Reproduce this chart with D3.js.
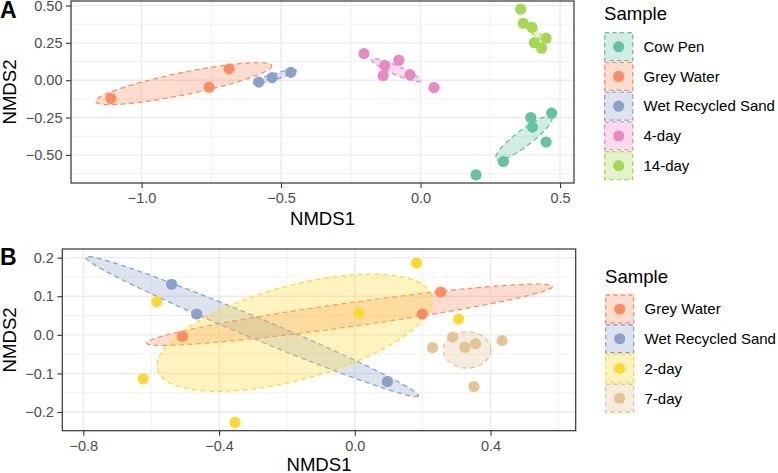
<!DOCTYPE html>
<html>
<head>
<meta charset="utf-8">
<script src="https://cdn.jsdelivr.net/npm/d3@7"></script>
<style>
  html, body { margin: 0; padding: 0; background: #fff; }
  svg { display: block; }
</style>
</head>
<body>
<script>
// ---------------- DATA ----------------
// Panel A
const groupsA = ["Cow Pen", "Grey Water", "Wet Recycled Sand", "4-day", "14-day"];
const colorsA = ["#66C2A5", "#FC8D62", "#8DA0CB", "#E78AC3", "#A6D854"];
const pointsAx = [
  [0.199, 0.297, 0.395, 0.401, 0.470, 0.450],
  [-1.110, -0.758, -0.686],
  [-0.580, -0.532, -0.465],
  [-0.203, -0.078, -0.128, -0.134, -0.038, 0.048],
  [0.359, 0.368, 0.399, 0.450, 0.408, 0.434]
];
const pointsAy = [
  [-0.633, -0.544, -0.250, -0.314, -0.221, -0.414],
  [-0.123, -0.047, 0.076],
  [-0.013, 0.017, 0.053],
  [0.178, 0.134, 0.098, 0.031, 0.037, -0.049],
  [0.475, 0.381, 0.354, 0.281, 0.251, 0.214]
];
// ellipses: centre, first half-axis vector, second half-axis vector (data units)
const ellA_cx = [0.370, -0.849, -0.522, -0.0878, 0.407];
const ellA_cy = [-0.388, -0.023, 0.024, 0.0675, 0.3295];
const ellA_ax = [0.0996, 0.3154, 0.0778, 0.0878, 0.0287];
const ellA_ay = [0.1404, 0.1203, 0.0448, -0.0725, -0.0535];
const ellA_bx = [0.0175, 0.008, 0.0032, -0.0065, -0.0076];
const ellA_by = [-0.0430, -0.0729, -0.0192, -0.0275, -0.0142];
const xDomainA = [-1.253, 0.550];
const yDomainA = [-0.688, 0.530];
const xTicksA = [-1.0, -0.5, 0.0, 0.5];
const xTickLabelsA = ["\u22121.0", "\u22120.5", "0.0", "0.5"];
const yTicksA = [-0.5, -0.25, 0.0, 0.25, 0.5];
const yTickLabelsA = ["\u22120.50", "\u22120.25", "0.00", "0.25", "0.50"];

// Panel B
const groupsB = ["Grey Water", "Wet Recycled Sand", "2-day", "7-day"];
const colorsB = ["#FC8D62", "#8DA0CB", "#FFD92F", "#E5C494"];
const pointsBx = [
  [-0.508, 0.199, 0.253],
  [-0.540, -0.466, 0.096],
  [-0.584, -0.624, -0.353, 0.012, 0.182, 0.306],
  [0.229, 0.288, 0.324, 0.356, 0.434, 0.351]
];
const pointsBy = [
  [-0.004, 0.054, 0.111],
  [0.131, 0.054, -0.121],
  [0.086, -0.114, -0.227, 0.056, 0.186, 0.041],
  [-0.033, -0.006, -0.032, -0.023, -0.015, -0.134]
];
const ellB_cx = [-0.016, -0.303, -0.177, 0.331];
const ellB_cy = [0.052, 0.0215, 0.0054, -0.039];
const ellB_ax = [0.598, 0.490, 0.4035, 0.070];
const ellB_ay = [0.0733, -0.1797, 0.0959, 0.0];
const ellB_bx = [0.0048, -0.012, -0.0361, 0.0];
const ellB_by = [-0.0305, -0.0253, 0.1176, 0.047];
const xDomainB = [-0.862, 0.651];
const yDomainB = [-0.2484, 0.2224];
const xTicksB = [-0.8, -0.4, 0.0, 0.4];
const xTickLabelsB = ["\u22120.8", "\u22120.4", "0.0", "0.4"];
const yTicksB = [-0.2, -0.1, 0.0, 0.1, 0.2];
const yTickLabelsB = ["\u22120.2", "\u22120.1", "0.0", "0.1", "0.2"];

const legendTitle = "Sample";
const xTitle = "NMDS1";
const yTitle = "NMDS2";

// ---------------- DRAW ----------------
const W = 778, H = 473;
const FONT = "'Liberation Sans', Arial, Helvetica, sans-serif";
const svg = d3.select("body").append("svg")
  .attr("width", W).attr("height", H)
  .style("font-family", FONT);
svg.append("rect").attr("width", W).attr("height", H).attr("fill", "#fff");

function minorBreaks(majors, domain) {
  const step = majors[1] - majors[0];
  const ext = [majors[0] - step, ...majors, majors[majors.length - 1] + step];
  const out = [];
  for (let i = 0; i < ext.length - 1; i++) {
    const m = (ext[i] + ext[i + 1]) / 2;
    if (m > domain[0] && m < domain[1]) out.push(m);
  }
  return out;
}

function drawPanel(p) {
  const g = svg.append("g");
  const x = d3.scaleLinear().domain(p.xDomain).range([p.left, p.right]);
  const y = d3.scaleLinear().domain(p.yDomain).range([p.bottom, p.top]);

  // grid
  const grid = g.append("g");
  minorBreaks(p.xTicks, p.xDomain).forEach(v => grid.append("line")
    .attr("x1", x(v)).attr("x2", x(v)).attr("y1", p.top).attr("y2", p.bottom)
    .attr("stroke", "#EBEBEB").attr("stroke-width", 0.7));
  minorBreaks(p.yTicks, p.yDomain).forEach(v => grid.append("line")
    .attr("y1", y(v)).attr("y2", y(v)).attr("x1", p.left).attr("x2", p.right)
    .attr("stroke", "#EBEBEB").attr("stroke-width", 0.7));
  p.xTicks.forEach(v => grid.append("line")
    .attr("x1", x(v)).attr("x2", x(v)).attr("y1", p.top).attr("y2", p.bottom)
    .attr("stroke", "#EBEBEB").attr("stroke-width", 1.4));
  p.yTicks.forEach(v => grid.append("line")
    .attr("y1", y(v)).attr("y2", y(v)).attr("x1", p.left).attr("x2", p.right)
    .attr("stroke", "#EBEBEB").attr("stroke-width", 1.4));

  // ellipses
  const ts = d3.range(0, 2 * Math.PI, Math.PI / 90);
  const line = d3.line().curve(d3.curveLinearClosed);
  p.groups.forEach((name, i) => {
    const pts = ts.map(t => [
      x(p.ecx[i] + p.eax[i] * Math.cos(t) + p.ebx[i] * Math.sin(t)),
      y(p.ecy[i] + p.eay[i] * Math.cos(t) + p.eby[i] * Math.sin(t))
    ]);
    g.append("path").attr("d", line(pts))
      .attr("fill", p.colors[i]).attr("fill-opacity", 0.3)
      .attr("stroke", p.colors[i]).attr("stroke-width", 1.3)
      .attr("stroke-dasharray", "5,3.5");
  });

  // points
  p.groups.forEach((name, i) => {
    g.append("g").selectAll("circle")
      .data(d3.range(p.px[i].length))
      .join("circle")
      .attr("cx", j => x(p.px[i][j]))
      .attr("cy", j => y(p.py[i][j]))
      .attr("r", 5.6)
      .attr("fill", p.colors[i]);
  });

  // border
  g.append("rect").attr("x", p.left).attr("y", p.top)
    .attr("width", p.right - p.left).attr("height", p.bottom - p.top)
    .attr("fill", "none").attr("stroke", "#333333").attr("stroke-width", 1.2);

  // axes
  const xa = g.append("g").attr("transform", `translate(0,${p.bottom})`)
    .call(d3.axisBottom(x).tickValues(p.xTicks)
      .tickFormat((d, i) => p.xTickLabels[i]).tickSize(5).tickPadding(5));
  const ya = g.append("g").attr("transform", `translate(${p.left},0)`)
    .call(d3.axisLeft(y).tickValues(p.yTicks)
      .tickFormat((d, i) => p.yTickLabels[i]).tickSize(5).tickPadding(3.5));
  [xa, ya].forEach(a => {
    a.select(".domain").remove();
    a.selectAll(".tick line").attr("stroke", "#333333").attr("stroke-width", 1.1);
    a.selectAll(".tick text").attr("fill", "#4D4D4D")
      .style("font-size", "14.5px").style("font-family", FONT);
  });

  // titles
  g.append("text").text(xTitle)
    .attr("x", (p.left + p.right) / 2).attr("y", p.xTitleY)
    .attr("text-anchor", "middle").style("font-size", "18.6px").attr("fill", "#000");
  g.append("text").text(yTitle)
    .attr("transform", `translate(${p.yTitleX},${(p.top + p.bottom) / 2}) rotate(-90)`)
    .attr("text-anchor", "middle").style("font-size", "18.6px").attr("fill", "#000");

  // panel tag
  g.append("text").text(p.tag).attr("x", 0).attr("y", p.tagY)
    .style("font-size", "23px").style("font-weight", "bold").attr("fill", "#000");

  // legend
  const lg = g.append("g");
  lg.append("text").text(legendTitle).attr("x", p.legX).attr("y", p.legTitleY)
    .style("font-size", "18.6px").attr("fill", "#000");
  const step = 29.75, key = 28;
  p.groups.forEach((name, i) => {
    const cy = p.legKeyY + i * step;
    lg.append("rect").attr("x", p.legX + 0.7).attr("y", cy - key / 2)
      .attr("width", key).attr("height", key)
      .attr("fill", p.colors[i]).attr("fill-opacity", 0.3)
      .attr("stroke", p.colors[i]).attr("stroke-width", 1.3)
      .attr("stroke-dasharray", "4.5,3");
    lg.append("circle").attr("cx", p.legX + 0.7 + key / 2).attr("cy", cy)
      .attr("r", 5.6).attr("fill", p.colors[i]);
    lg.append("text").text(name).attr("x", p.legX + 39.5).attr("y", cy)
      .attr("dy", "0.35em").style("font-size", "15px").attr("fill", "#000");
  });
}

drawPanel({
  tag: "A", tagY: 18,
  left: 71, right: 574, top: 1, bottom: 183,
  xDomain: xDomainA, yDomain: yDomainA,
  xTicks: xTicksA, xTickLabels: xTickLabelsA,
  yTicks: yTicksA, yTickLabels: yTickLabelsA,
  groups: groupsA, colors: colorsA, px: pointsAx, py: pointsAy,
  ecx: ellA_cx, ecy: ellA_cy, eax: ellA_ax, eay: ellA_ay, ebx: ellA_bx, eby: ellA_by,
  xTitleY: 224.5, yTitleX: 16,
  legX: 604, legTitleY: 19.5, legKeyY: 46.7
});

drawPanel({
  tag: "B", tagY: 265,
  left: 62.3, right: 575.7, top: 249, bottom: 430.7,
  xDomain: xDomainB, yDomain: yDomainB,
  xTicks: xTicksB, xTickLabels: xTickLabelsB,
  yTicks: yTicksB, yTickLabels: yTickLabelsB,
  groups: groupsB, colors: colorsB, px: pointsBx, py: pointsBy,
  ecx: ellB_cx, ecy: ellB_cy, eax: ellB_ax, eay: ellB_ay, ebx: ellB_bx, eby: ellB_by,
  xTitleY: 470.5, yTitleX: 16,
  legX: 605, legTitleY: 282.7, legKeyY: 309
});
</script>
</body>
</html>
